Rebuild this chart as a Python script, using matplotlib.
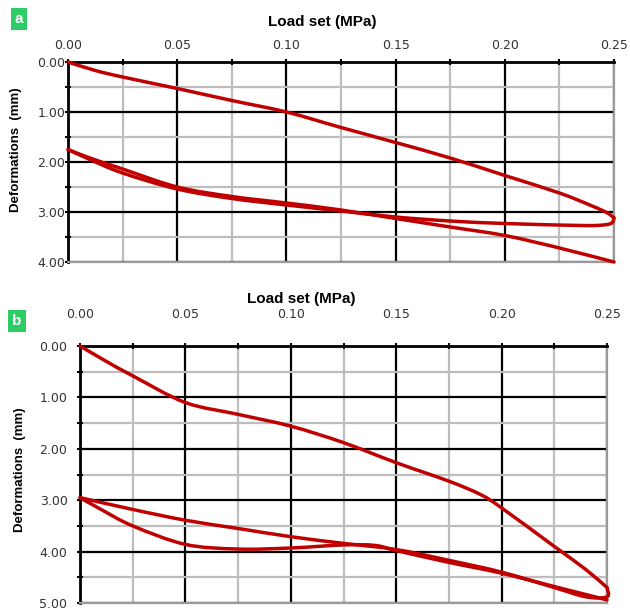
import matplotlib
matplotlib.use('Agg')
import numpy as np
import matplotlib.pyplot as plt
from matplotlib.path import Path
from matplotlib.patches import PathPatch
from matplotlib.ticker import MultipleLocator, FormatStrFormatter

plt.rcParams['font.family'] = ['Liberation Sans', 'DejaVu Sans']

# ─── Panel a: load (MPa) vs deformation (mm) ───
a_load_up = [0.0, 0.0125, 0.025, 0.05, 0.075, 0.1, 0.125, 0.15, 0.175, 0.2, 0.225, 0.24, 0.247, 0.25]
a_def_up = [0.0, 0.17, 0.30, 0.53, 0.77, 1.00, 1.31, 1.61, 1.92, 2.27, 2.62, 2.88, 3.02, 3.12]
a_load_down = [0.25, 0.249, 0.245, 0.235, 0.2, 0.175, 0.15, 0.125, 0.1, 0.075, 0.05, 0.025, 0.01, 0.0]
a_def_down = [3.12, 3.22, 3.26, 3.27, 3.23, 3.18, 3.10, 2.98, 2.86, 2.73, 2.54, 2.22, 1.95, 1.75]
a_load_re = [0.0, 0.01, 0.025, 0.05, 0.075, 0.1, 0.125, 0.15, 0.175, 0.2, 0.225, 0.25]
a_def_re = [1.75, 1.92, 2.14, 2.50, 2.69, 2.82, 2.96, 3.13, 3.30, 3.47, 3.72, 4.00]

# ─── Panel b ───
b_load_up = [0.0, 0.0125, 0.025, 0.05, 0.075, 0.1, 0.125, 0.15, 0.175, 0.19, 0.2, 0.225, 0.24, 0.25]
b_def_up = [0.0, 0.30, 0.58, 1.10, 1.33, 1.56, 1.88, 2.27, 2.63, 2.89, 3.15, 3.90, 4.35, 4.70]
b_load_down = [0.25, 0.25, 0.24, 0.225, 0.2, 0.175, 0.15, 0.125, 0.1, 0.075, 0.05, 0.025, 0.0]
b_def_down = [4.70, 4.88, 4.88, 4.70, 4.40, 4.17, 3.96, 3.84, 3.71, 3.55, 3.39, 3.18, 2.95]
b_load_re = [0.0, 0.01, 0.025, 0.05, 0.075, 0.1, 0.125, 0.14, 0.15, 0.175, 0.2, 0.225, 0.25]
b_def_re = [2.95, 3.18, 3.50, 3.86, 3.95, 3.93, 3.87, 3.88, 3.98, 4.21, 4.42, 4.68, 4.94]

RED = '#C00000'
GREEN = '#2ECC64'


def smooth_path(xs, ys):
    """Catmull-Rom through the read points, as cubic Bezier segments."""
    p = np.column_stack([xs, ys]).astype(float)
    p_ext = np.vstack([p[0], p, p[-1]])
    verts = [p[0]]
    codes = [Path.MOVETO]
    for i in range(1, len(p_ext) - 2):
        p0, p1, p2, p3 = p_ext[i - 1], p_ext[i], p_ext[i + 1], p_ext[i + 2]
        verts += [p1 + (p2 - p0) / 6, p2 - (p3 - p1) / 6, p2]
        codes += [Path.CURVE4] * 3
    return Path(verts, codes)


def style_axes(ax, ymax, xpad, ypad):
    ax.set_xlim(0, 0.25)
    ax.set_ylim(ymax, 0)
    ax.xaxis.set_major_locator(MultipleLocator(0.05))
    ax.xaxis.set_minor_locator(MultipleLocator(0.025))
    ax.yaxis.set_major_locator(MultipleLocator(1.0))
    ax.yaxis.set_minor_locator(MultipleLocator(0.5))
    ax.xaxis.set_major_formatter(FormatStrFormatter('%.2f'))
    ax.yaxis.set_major_formatter(FormatStrFormatter('%.2f'))
    ax.xaxis.tick_top()
    ax.grid(which='minor', color='#BDBDBD', linewidth=1.6, zorder=0)
    ax.grid(which='major', color='black', linewidth=1.6, zorder=1)
    ax.set_axisbelow(True)
    ax.tick_params(which='both', direction='inout', color='black', width=1.5, length=4)
    ax.tick_params(axis='x', pad=xpad, labelsize=9, labelcolor='#333333')
    ax.tick_params(axis='y', pad=ypad, labelsize=9, labelcolor='#333333')
    for lbl in ax.get_xticklabels() + ax.get_yticklabels():
        lbl.set_family('DejaVu Sans')
    for s in ['top', 'left']:
        ax.spines[s].set_linewidth(2)
        ax.spines[s].set_color('black')
    for s in ['bottom', 'right']:
        ax.spines[s].set_linewidth(1.6)
        ax.spines[s].set_color('#999999')


fig = plt.figure(figsize=(6.3, 6.12), dpi=100)

ax_a = fig.add_axes([68 / 630, 1 - 262 / 612, 546 / 630, 200 / 612])
ax_b = fig.add_axes([80 / 630, 1 - 603 / 612, 527 / 630, 257 / 612])

style_axes(ax_a, 4.0, 5, 0)
style_axes(ax_b, 5.0, 16, 7)

for ax, segs in [(ax_a, [(a_load_up, a_def_up), (a_load_down, a_def_down), (a_load_re, a_def_re)]),
                 (ax_b, [(b_load_up, b_def_up), (b_load_down, b_def_down), (b_load_re, b_def_re)])]:
    for xs, ys in segs:
        patch = PathPatch(smooth_path(xs, ys), facecolor='none', edgecolor=RED,
                          linewidth=2.5, capstyle='round', joinstyle='round',
                          zorder=3, clip_on=False)
        ax.add_patch(patch)

# axis titles
fig.text(322 / 630, 1 - 22 / 612, 'Load set (MPa)', ha='center', va='center',
         fontsize=11, fontweight='bold')
fig.text(301 / 630, 1 - 299 / 612, 'Load set (MPa)', ha='center', va='center',
         fontsize=11, fontweight='bold')
fig.text(16 / 630, 1 - 150 / 612, 'Deformations  (mm)', ha='center', va='center',
         rotation=90, fontsize=9.5, fontweight='bold')
fig.text(20 / 630, 1 - 470 / 612, 'Deformations  (mm)', ha='center', va='center',
         rotation=90, fontsize=9.5, fontweight='bold')

# panel letters
for label, x0, y0 in [('a', 10, 8), ('b', 8, 310)]:
    fig.text((x0 + 9) / 630, 1 - (y0 + 11) / 612, label, ha='center', va='center',
             color='white', fontsize=11, fontweight='bold',
             bbox=dict(boxstyle='square,pad=0.25', facecolor=GREEN, edgecolor='none'))

fig.savefig('out.png', dpi=100)
